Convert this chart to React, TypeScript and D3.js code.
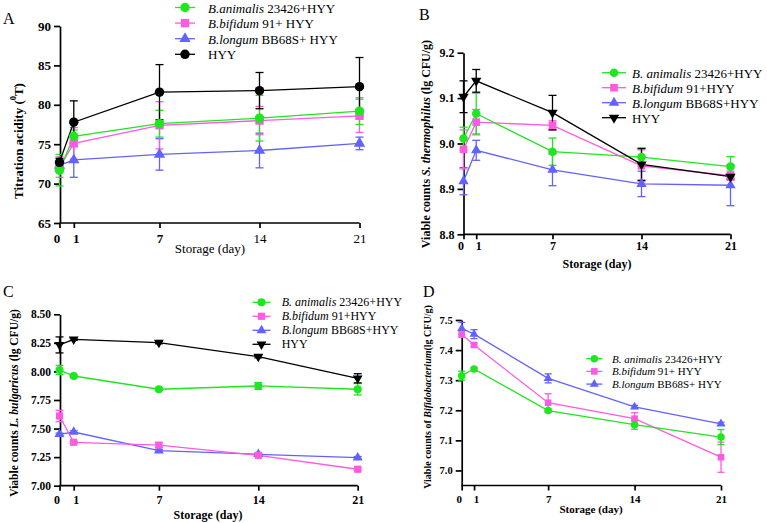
import React, { useEffect, useRef } from "react";
import * as d3 from "d3";

const W = 767;
const H = 523;
const FONT = "'Liberation Serif', 'Times New Roman', serif";

const GREEN = "#1fe61f";
const PINK = "#ff5ae0";
const BLUE = "#6262ff";
const BLACK = "#000000";

// storage days
const days = [0, 1, 7, 14, 21];

// A: titration acidity (°T)
const acidAnimalis = [71.7, 76.0, 77.6, 78.3, 79.2];
const acidAnimalisErr = [2.0, 0.8, 1.7, 2.9, 1.7];
const acidBifidum = [72.1, 75.1, 77.4, 78.0, 78.6];
const acidBifidumErr = [1.3, 2.0, 3.0, 1.8, 2.1];
const acidLongum = [72.3, 73.0, 73.7, 74.2, 75.1];
const acidLongumErr = [0.5, 2.2, 2.0, 2.2, 0.8];
const acidHYY = [72.7, 77.8, 81.6, 81.8, 82.3];
const acidHYYErr = [0.5, 2.7, 3.5, 2.3, 3.7];
const acidTicks = [65, 70, 75, 80, 85, 90];

// B: S. thermophilus counts
const thermoAnimalis = [9.011, 9.066, 8.982, 8.97, 8.949];
const thermoAnimalisErr = [0.025, 0.045, 0.03, 0.02, 0.022];
const thermoBifidum = [8.987, 9.047, 9.04, 8.951, 8.929];
const thermoBifidumErr = [0.043, 0.028, 0.01, 0.035, 0.01];
const thermoLongum = [8.917, 8.985, 8.942, 8.911, 8.908];
const thermoLongumErr = [0.03, 0.022, 0.035, 0.028, 0.045];
const thermoHYY = [9.103, 9.138, 9.068, 8.954, 8.927];
const thermoHYYErr = [0.035, 0.025, 0.038, 0.035, 0.005];
const thermoTicks = [8.8, 8.9, 9.0, 9.1, 9.2];

// C: L. bulgaricus counts
const bulgAnimalis = [8.013, 7.96, 7.844, 7.873, 7.844];
const bulgAnimalisErr = [0.04, 0.01, 0.01, 0.03, 0.05];
const bulgBifidum = [7.61, 7.38, 7.355, 7.266, 7.144];
const bulgBifidumErr = [0.05, 0.01, 0.02, 0.01, 0.01];
const bulgLongum = [7.45, 7.47, 7.307, 7.275, 7.245];
const bulgLongumErr = [0.01, 0.01, 0.01, 0.01, 0.01];
const bulgHYY = [8.232, 8.281, 8.252, 8.129, 7.94];
const bulgHYYErr = [0.07, 0.01, 0.01, 0.01, 0.04];
const bulgTicks = [7.0, 7.25, 7.5, 7.75, 8.0, 8.25, 8.5];

// D: Bifidobacterium counts
const bifAnimalis = [7.315, 7.337, 7.199, 7.152, 7.111];
const bifAnimalisErr = [0.015, 0.005, 0.005, 0.015, 0.025];
const bifBifidum = [7.453, 7.417, 7.225, 7.172, 7.044];
const bifBifidumErr = [0.01, 0.005, 0.03, 0.02, 0.05];
const bifLongum = [7.472, 7.453, 7.306, 7.211, 7.155];
const bifLongumErr = [0.02, 0.015, 0.015, 0.005, 0.005];
const bifTicks = [7.0, 7.1, 7.2, 7.3, 7.4, 7.5];

// legend labels: [italic part, plain part]
const legendA = [["B.animalis", " 23426+HYY"], ["B.bifidum", " 91+ HYY"], ["B.longum", " BB68S+ HYY"], ["", "HYY"]];
const legendB = [["B. animalis", " 23426+HYY"], ["B.bifidum", " 91+HYY"], ["B.longum", " BB68S+HYY"], ["", "HYY"]];
const legendC = [["B. animalis", " 23426+HYY"], ["B.bifidum", " 91+HYY"], ["B.longum", " BB68S+HYY"], ["", "HYY"]];
const legendD = [["B. animalis", " 23426+HYY"], ["B.bifidum", " 91+ HYY"], ["B.longum", " BB68S+ HYY"]];

const shapes = {
  circle: d3.symbolCircle,
  square: d3.symbolSquare,
  triangle: d3.symbolTriangle,
  down: d3.symbolTriangle,
};

const panels = [
  {
    letter: "A", letterPos: [3, 24],
    xRange: [59.5, 359.5], yDomain: [65, 90], yRange: [223, 26], axisX: 60, axisY: 223,
    yTicks: acidTicks, yFmt: "d", yTickSize: 13, xTickSize: 13, xTickY: 15, boldX: [0, 1, 7],
    xTitle: "Storage (day)", xTitleX: 210, xTitleY: 253, xTitleBold: false, xTitleSize: 13,
    yTitle: [["Titration acidity (", ""], ["0", "sup"], ["T)", ""]], yTitleX: 18, yTitleY: 141, yTitleSize: 13,
    markSize: 70, cap: 8,
    series: [
      { v: acidLongum, e: acidLongumErr, c: BLUE, s: "triangle" },
      { v: acidBifidum, e: acidBifidumErr, c: PINK, s: "square" },
      { v: acidAnimalis, e: acidAnimalisErr, c: GREEN, s: "circle" },
      { v: acidHYY, e: acidHYYErr, c: BLACK, s: "circle" },
    ],
    legend: { labels: legendA, x: 185, half: 10, tx: 208, y0: 7.5, dy: 15.6, size: 13, shapes: ["circle", "square", "triangle", "circle"], colors: [GREEN, PINK, BLUE, BLACK] },
  },
  {
    letter: "B", letterPos: [419, 20],
    xRange: [463.5, 730.5], yDomain: [8.8, 9.2], yRange: [234.3, 52.7], axisX: 463.5, axisY: 234.3,
    yTicks: thermoTicks, yFmt: ".1f", yTickSize: 12, xTickSize: 12, xTickY: 12, boldX: days,
    xTitle: "Storage (day)", xTitleX: 597, xTitleY: 268, xTitleBold: true, xTitleSize: 12,
    yTitle: [["Viable counts ", ""], ["S. thermophilus", "it"], [" (lg CFU/g)", ""]], yTitleX: 426, yTitleY: 144, yTitleSize: 12,
    markSize: 58, cap: 8,
    series: [
      { v: thermoLongum, e: thermoLongumErr, c: BLUE, s: "triangle" },
      { v: thermoBifidum, e: thermoBifidumErr, c: PINK, s: "square" },
      { v: thermoAnimalis, e: thermoAnimalisErr, c: GREEN, s: "circle" },
      { v: thermoHYY, e: thermoHYYErr, c: BLACK, s: "down" },
    ],
    legend: { labels: legendB, x: 614, half: 12, tx: 632, y0: 72.7, dy: 15, size: 13, shapes: ["circle", "square", "triangle", "down"], colors: [GREEN, PINK, BLUE, BLACK] },
  },
  {
    letter: "C", letterPos: [3, 297],
    xRange: [59.5, 357.7], yDomain: [7.0, 8.5], yRange: [485.7, 314.3], axisX: 60, axisY: 485.7,
    yTicks: bulgTicks, yFmt: ".2f", yTickSize: 11.5, xTickSize: 12, xTickY: 14, boldX: days,
    xTitle: "Storage (day)", xTitleX: 208, xTitleY: 519, xTitleBold: true, xTitleSize: 12,
    yTitle: [["Viable counts ", ""], ["L. bulgaricus", "it"], [" (lg CFU/g)", ""]], yTitleX: 14, yTitleY: 403, yTitleSize: 11.5,
    markSize: 52, cap: 8,
    series: [
      { v: bulgLongum, e: bulgLongumErr, c: BLUE, s: "triangle" },
      { v: bulgBifidum, e: bulgBifidumErr, c: PINK, s: "square" },
      { v: bulgAnimalis, e: bulgAnimalisErr, c: GREEN, s: "circle" },
      { v: bulgHYY, e: bulgHYYErr, c: BLACK, s: "down" },
    ],
    legend: { labels: legendC, x: 261.5, half: 9, tx: 281.7, y0: 302.3, dy: 14, size: 12, shapes: ["circle", "square", "triangle", "down"], colors: [GREEN, PINK, BLUE, BLACK] },
  },
  {
    letter: "D", letterPos: [423, 297],
    xRange: [461.7, 721], yDomain: [6.95, 7.5], yRange: [485.5, 320], axisX: 461.7, axisY: 485.5,
    yTicks: bifTicks, yFmt: ".1f", yTickSize: 10.5, xTickSize: 11, xTickY: 13, boldX: days,
    xTitle: "Storage (day)", xTitleX: 591, xTitleY: 513, xTitleBold: true, xTitleSize: 11,
    yTitle: [["Viable counts of ", ""], ["Bifidobacterium", "it"], ["(lg CFU/g)", ""]], yTitleX: 427, yTitleY: 397, yTitleSize: 10,
    markSize: 44, cap: 7,
    series: [
      { v: bifLongum, e: bifLongumErr, c: BLUE, s: "triangle" },
      { v: bifBifidum, e: bifBifidumErr, c: PINK, s: "square" },
      { v: bifAnimalis, e: bifAnimalisErr, c: GREEN, s: "circle" },
    ],
    legend: { labels: legendD, x: 594.3, half: 8, tx: 612, y0: 358.7, dy: 12.7, size: 11, shapes: ["circle", "square", "triangle"], colors: [GREEN, PINK, BLUE] },
  },
];

function marker(g, shape, size, color, cx, cy) {
  g.append("path")
    .attr("d", d3.symbol().type(shapes[shape]).size(shape === "triangle" || shape === "down" ? size * 0.8 : size)())
    .attr("transform", `translate(${cx},${cy})${shape === "down" ? " rotate(180)" : ""}`)
    .attr("fill", color);
}

function drawPanel(svg, p) {
  const x = d3.scaleLinear().domain([0, 21]).range(p.xRange);
  const y = d3.scaleLinear().domain(p.yDomain).range(p.yRange);
  const g = svg.append("g");

  g.append("text")
    .attr("x", p.letterPos[0]).attr("y", p.letterPos[1])
    .attr("font-family", FONT).attr("font-size", 16).text(p.letter);

  // y axis
  const ya = g.append("g")
    .attr("transform", `translate(${p.axisX},0)`)
    .call(d3.axisLeft(y).tickValues(p.yTicks).tickFormat(d3.format(p.yFmt)).tickSize(6).tickSizeOuter(0).tickPadding(3));
  ya.selectAll("path,line").attr("stroke", "#000").attr("stroke-width", 1.7);
  ya.selectAll("text").attr("font-family", FONT).attr("font-weight", "bold")
    .attr("font-size", p.yTickSize).attr("fill", "#000");

  // x axis
  const xa = g.append("g")
    .attr("transform", `translate(0,${p.axisY})`)
    .call(d3.axisBottom(x).tickValues(days).tickFormat(d3.format("d")).tickSize(5).tickSizeOuter(0).tickPadding(3));
  xa.select(".domain").attr("d", `M${x(0)},0H${x(21)}`);
  xa.selectAll("path,line").attr("stroke", "#000").attr("stroke-width", 1.7);
  xa.selectAll("text").attr("font-family", FONT)
    .attr("font-weight", (d) => (p.boldX.includes(d) ? "bold" : "normal"))
    .attr("font-size", p.xTickSize).attr("fill", "#000")
    .attr("dy", null).attr("y", p.xTickY).attr("dominant-baseline", "central");
  xa.selectAll(".tick").filter((d) => d === 0).select("text").attr("dx", -3);
  xa.selectAll(".tick").filter((d) => d === 1).select("text").attr("dx", 2);

  g.append("text")
    .attr("x", p.xTitleX).attr("y", p.xTitleY).attr("text-anchor", "middle")
    .attr("font-family", FONT).attr("font-size", p.xTitleSize)
    .attr("font-weight", p.xTitleBold ? "bold" : "normal").text(p.xTitle);

  const yt = g.append("text")
    .attr("transform", `translate(${p.yTitleX},${p.yTitleY}) rotate(-90)`)
    .attr("text-anchor", "middle").attr("dominant-baseline", "central")
    .attr("font-family", FONT).attr("font-size", p.yTitleSize).attr("font-weight", "bold");
  p.yTitle.forEach(([t, kind]) => {
    const ts = yt.append("tspan").text(t);
    if (kind === "it") ts.attr("font-style", "italic");
    if (kind === "sup") ts.attr("baseline-shift", "super").attr("font-size", p.yTitleSize * 0.65);
  });

  const line = d3.line().x((d, i) => x(days[i])).y((d) => y(d));

  p.series.forEach((s) => {
    g.append("path").datum(s.v).attr("d", line)
      .attr("fill", "none").attr("stroke", s.c).attr("stroke-width", 1.3);
    s.v.forEach((v, i) => {
      const e = s.e[i];
      const cx = x(days[i]);
      const y1 = y(v - e), y2 = y(v + e);
      g.append("line").attr("x1", cx).attr("x2", cx).attr("y1", y1).attr("y2", y2)
        .attr("stroke", s.c).attr("stroke-width", 1.3);
      [y1, y2].forEach((yy) => {
        g.append("line").attr("x1", cx - p.cap / 2).attr("x2", cx + p.cap / 2).attr("y1", yy).attr("y2", yy)
          .attr("stroke", s.c).attr("stroke-width", 1.3);
      });
    });
  });
  p.series.forEach((s) => {
    s.v.forEach((v, i) => marker(g, s.s, p.markSize, s.c, x(days[i]), y(v)));
  });

  // legend
  const L = p.legend;
  L.labels.forEach((lab, i) => {
    const yy = L.y0 + i * L.dy;
    g.append("line").attr("x1", L.x - L.half).attr("x2", L.x + L.half).attr("y1", yy).attr("y2", yy)
      .attr("stroke", L.colors[i]).attr("stroke-width", 1.3);
    marker(g, L.shapes[i], p.markSize, L.colors[i], L.x, yy);
    const t = g.append("text").attr("x", L.tx).attr("y", yy).attr("dominant-baseline", "central")
      .attr("font-family", FONT).attr("font-size", L.size);
    if (lab[0]) t.append("tspan").attr("font-style", "italic").text(lab[0]);
    t.append("tspan").text(lab[1]);
  });
}

export default function App() {
  const svgRef = useRef(null);

  useEffect(() => {
    const svg = d3.select(svgRef.current);
    svg.selectAll("*").remove();
    panels.forEach((p) => drawPanel(svg, p));
  }, []);

  return (
    <svg
      ref={svgRef}
      width={W}
      height={H}
      style={{ position: "absolute", left: 0, top: 0, background: "#fff" }}
    />
  );
}
